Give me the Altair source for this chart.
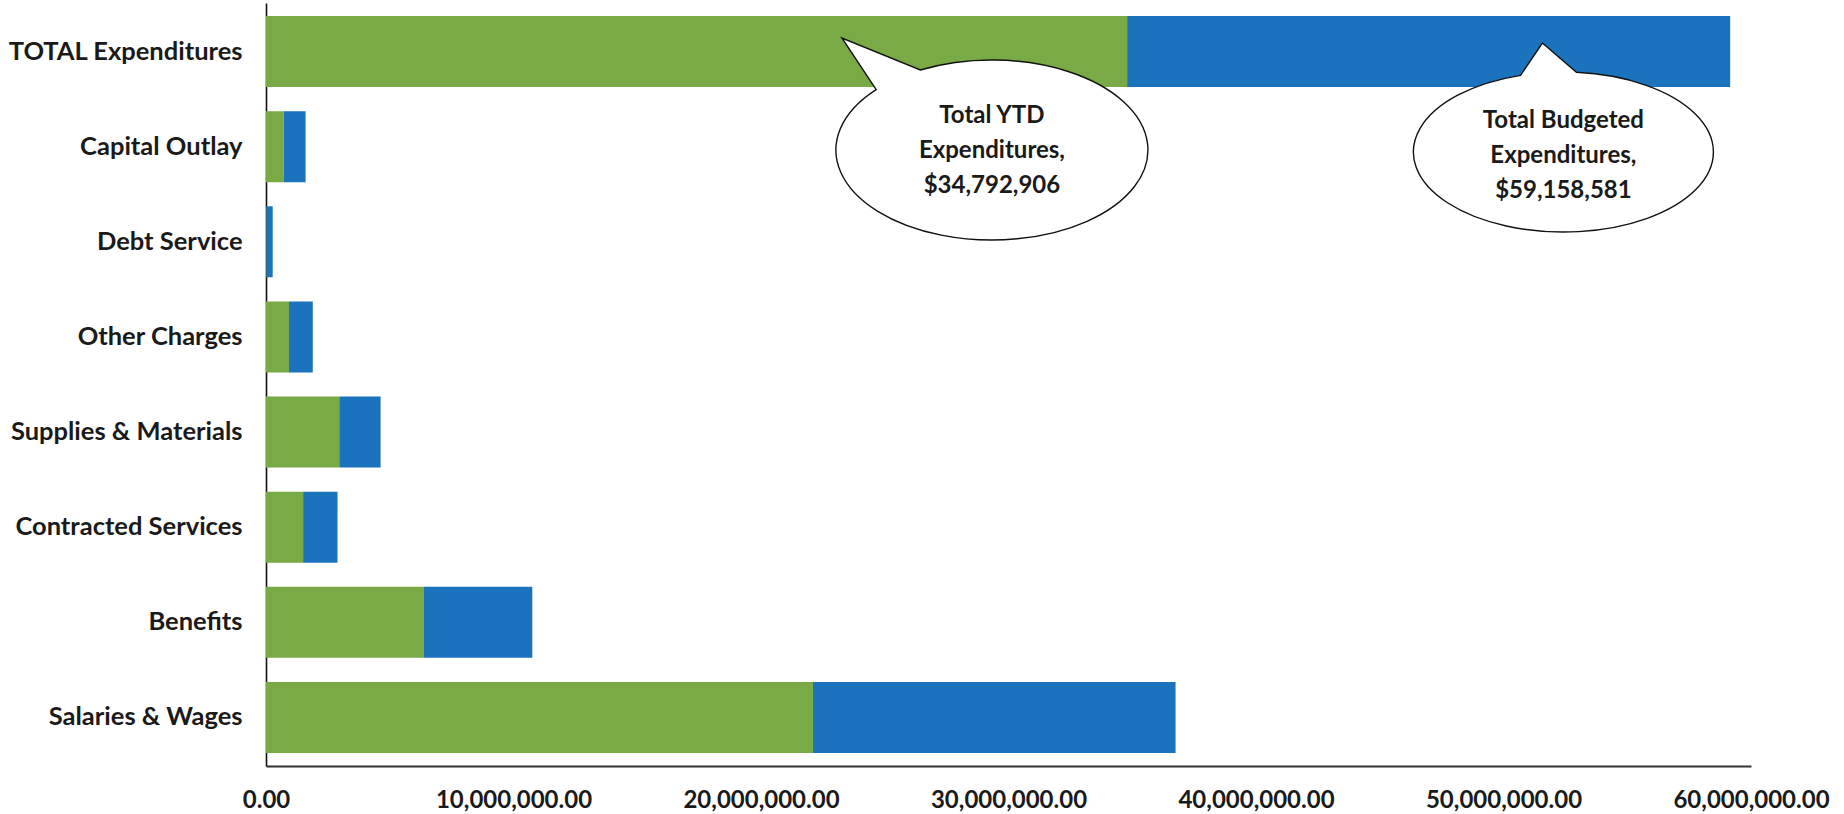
import math
import altair as alt
import pandas as pd

# ---- data ----
categories = ["TOTAL Expenditures", "Capital Outlay", "Debt Service", "Other Charges",
              "Supplies & Materials", "Contracted Services", "Benefits", "Salaries & Wages"]
ytd_spent = [34792906, 720000, 20000, 930000, 2960000, 1500000, 6360000, 22100000]
budgeted = [59158581, 1600000, 270000, 1890000, 4630000, 2890000, 10760000, 36750000]

tick_values = [0, 10000000, 20000000, 30000000, 40000000, 50000000, 60000000]

callout_text = ["Total YTD\nExpenditures,\n$34,792,906",
                "Total Budgeted\nExpenditures,\n$59,158,581"]
callout_x = [29330000, 52420000]          # bubble centre, in dollars

GREEN = "#7aaa46"
BLUE = "#1b72bd"
FONT = "Lato"

# bubble outline geometry (pixels, relative to bubble centre) -- styling only
bubble_rx = [156, 150]
bubble_ry = [90, 80]
bubble_tip = [(-150, -112), (-21, -109)]
bubble_base_deg = [(-137.9, -117.3), (-106.6, -85.0)]
bubble_cy = [147, 149]    # bubble centre, px from top of plot area
text_top = [113, 118]     # first text line centre, px from top of plot area


def bubble_path(rx, ry, tip, th_left, th_right, unit=100.0, nseg=6):
    def E(t):
        return rx * math.cos(t), ry * math.sin(t)

    def dE(t):
        return -rx * math.sin(t), ry * math.cos(t)

    f = lambda v: f"{v / unit:.4f}"
    a0 = math.radians(th_right)
    a1 = math.radians(th_left) + 2 * math.pi
    sx, sy = E(math.radians(th_left))
    ex, ey = E(a0)
    parts = [f"M {f(sx)} {f(sy)}", f"L {f(tip[0])} {f(tip[1])}", f"L {f(ex)} {f(ey)}"]
    step = (a1 - a0) / nseg
    for k in range(nseg):
        a = a0 + k * step
        b = a + step
        al = 4.0 / 3.0 * math.tan(step / 4.0)
        p0 = E(a)
        d0 = dE(a)
        p3 = E(b)
        d3 = dE(b)
        p1 = (p0[0] + al * d0[0], p0[1] + al * d0[1])
        p2 = (p3[0] - al * d3[0], p3[1] - al * d3[1])
        parts.append(f"C {f(p1[0])} {f(p1[1])} {f(p2[0])} {f(p2[1])} {f(p3[0])} {f(p3[1])}")
    parts.append("Z")
    return " ".join(parts)


df = pd.DataFrame({"cat": categories, "ytd": ytd_spent, "budget": budgeted})

yscale = alt.Scale(domain=categories, paddingInner=0.254, paddingOuter=0.137)
xscale = alt.Scale(domain=[0, 60000000], nice=False, zero=True)

y_enc = alt.Y("cat:N", scale=yscale, sort=categories, title=None,
              axis=alt.Axis(labelFont=FONT, labelFontSize=25.5, labelFontWeight="bold",
                            labelColor="#1a1a1a", labelPadding=24, labelLimit=500,
                            ticks=False, domainColor="#111111", domainWidth=1.6,
                            grid=False))
x_axis = alt.Axis(values=tick_values, format=",.2f", labelFont=FONT, labelFontSize=24,
                  labelFontWeight="bold", labelColor="#1a1a1a", ticks=False,
                  labelPadding=22, domainColor="#333333", domainWidth=2.2, grid=False,
                  labelFlush=False, labelOverlap=False)

green = alt.Chart(df).mark_bar(color=GREEN).encode(
    y=y_enc,
    x=alt.X("zero:Q", scale=xscale, axis=x_axis, title=None),
    x2="ytd:Q",
).transform_calculate(zero="0")

blue = alt.Chart(df).mark_bar(color=BLUE).encode(
    y=alt.Y("cat:N", scale=yscale, sort=categories),
    x=alt.X("ytd:Q", scale=xscale),
    x2="budget:Q",
)

layers = [green, blue]
for i in range(len(callout_text)):
    one = pd.DataFrame({"x": [callout_x[i]], "label": [callout_text[i]]})
    path = bubble_path(bubble_rx[i], bubble_ry[i], bubble_tip[i],
                       bubble_base_deg[i][0], bubble_base_deg[i][1])
    bub = alt.Chart(one).mark_point(
        shape=path, size=40000, filled=True, fill="white", stroke="#111111",
        strokeWidth=1.4, opacity=1, fillOpacity=1, strokeOpacity=1
    ).encode(
        x=alt.X("x:Q", scale=xscale),
        y=alt.value(bubble_cy[i]),
    )
    txt = alt.Chart(one).mark_text(
        font=FONT, fontSize=24, fontWeight="bold", color="#1a1a1a", lineBreak="\n",
        lineHeight=35, align="center", baseline="middle"
    ).encode(
        x=alt.X("x:Q", scale=xscale),
        y=alt.value(text_top[i]),
        text="label:N",
    )
    layers += [bub, txt]

chart = alt.layer(*layers).properties(
    width=1485, height=763,
    autosize=alt.AutoSizeParams(type="none"),
    padding={"left": 266, "top": 3, "right": 93, "bottom": 48},
    background="white",
).configure_view(strokeWidth=0)

chart.save("out.html", embed_options={"renderer": "svg", "actions": False})
